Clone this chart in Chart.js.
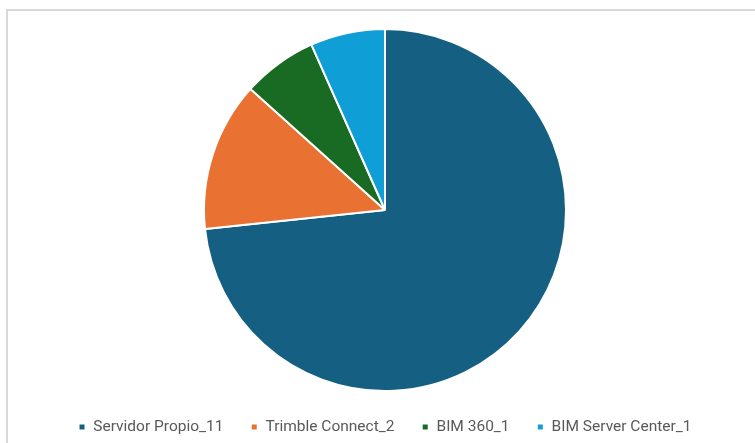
<!DOCTYPE html>
<html><head><meta charset="utf-8">
<script src="https://cdn.jsdelivr.net/npm/chart.js@4/dist/chart.umd.min.js"></script>
<style>
html,body{margin:0;padding:0;background:#fff;width:755px;height:443px;overflow:hidden;}
#frame{position:absolute;left:6px;top:9px;width:800px;height:500px;border-top:2px solid #d9d9d9;border-left:2px solid #d9d9d9;}
#wrap{position:absolute;left:0;top:0;width:755px;height:460px;}
</style></head>
<body>
<div id="frame"></div>
<div id="wrap"><canvas id="c" width="755" height="460"></canvas></div>
<script>
const categories = ["Servidor Propio_11", "Trimble Connect_2", "BIM 360_1", "BIM Server Center_1"];
const values = [11, 2, 1, 1];
const colors = ["#156082", "#E97132", "#196B24", "#0F9ED5"];

new Chart(document.getElementById('c'), {
  type: 'pie',
  data: {
    labels: categories,
    datasets: [{
      data: values,
      backgroundColor: colors,
      borderColor: '#ffffff',
      borderWidth: 2
    }]
  },
  options: {
    responsive: false,
    animation: false,
    layout: { padding: { top: 28, left: 15, right: 0, bottom: 15.25 } },
    plugins: {
      tooltip: { enabled: false },
      legend: {
        position: 'bottom',
        labels: {
          boxWidth: 7,
          boxHeight: 7,
          padding: 27.25,
          color: '#595959',
          font: { family: 'Roboto', size: 15.5 }
        }
      }
    }
  }
});
</script>
</body></html>
